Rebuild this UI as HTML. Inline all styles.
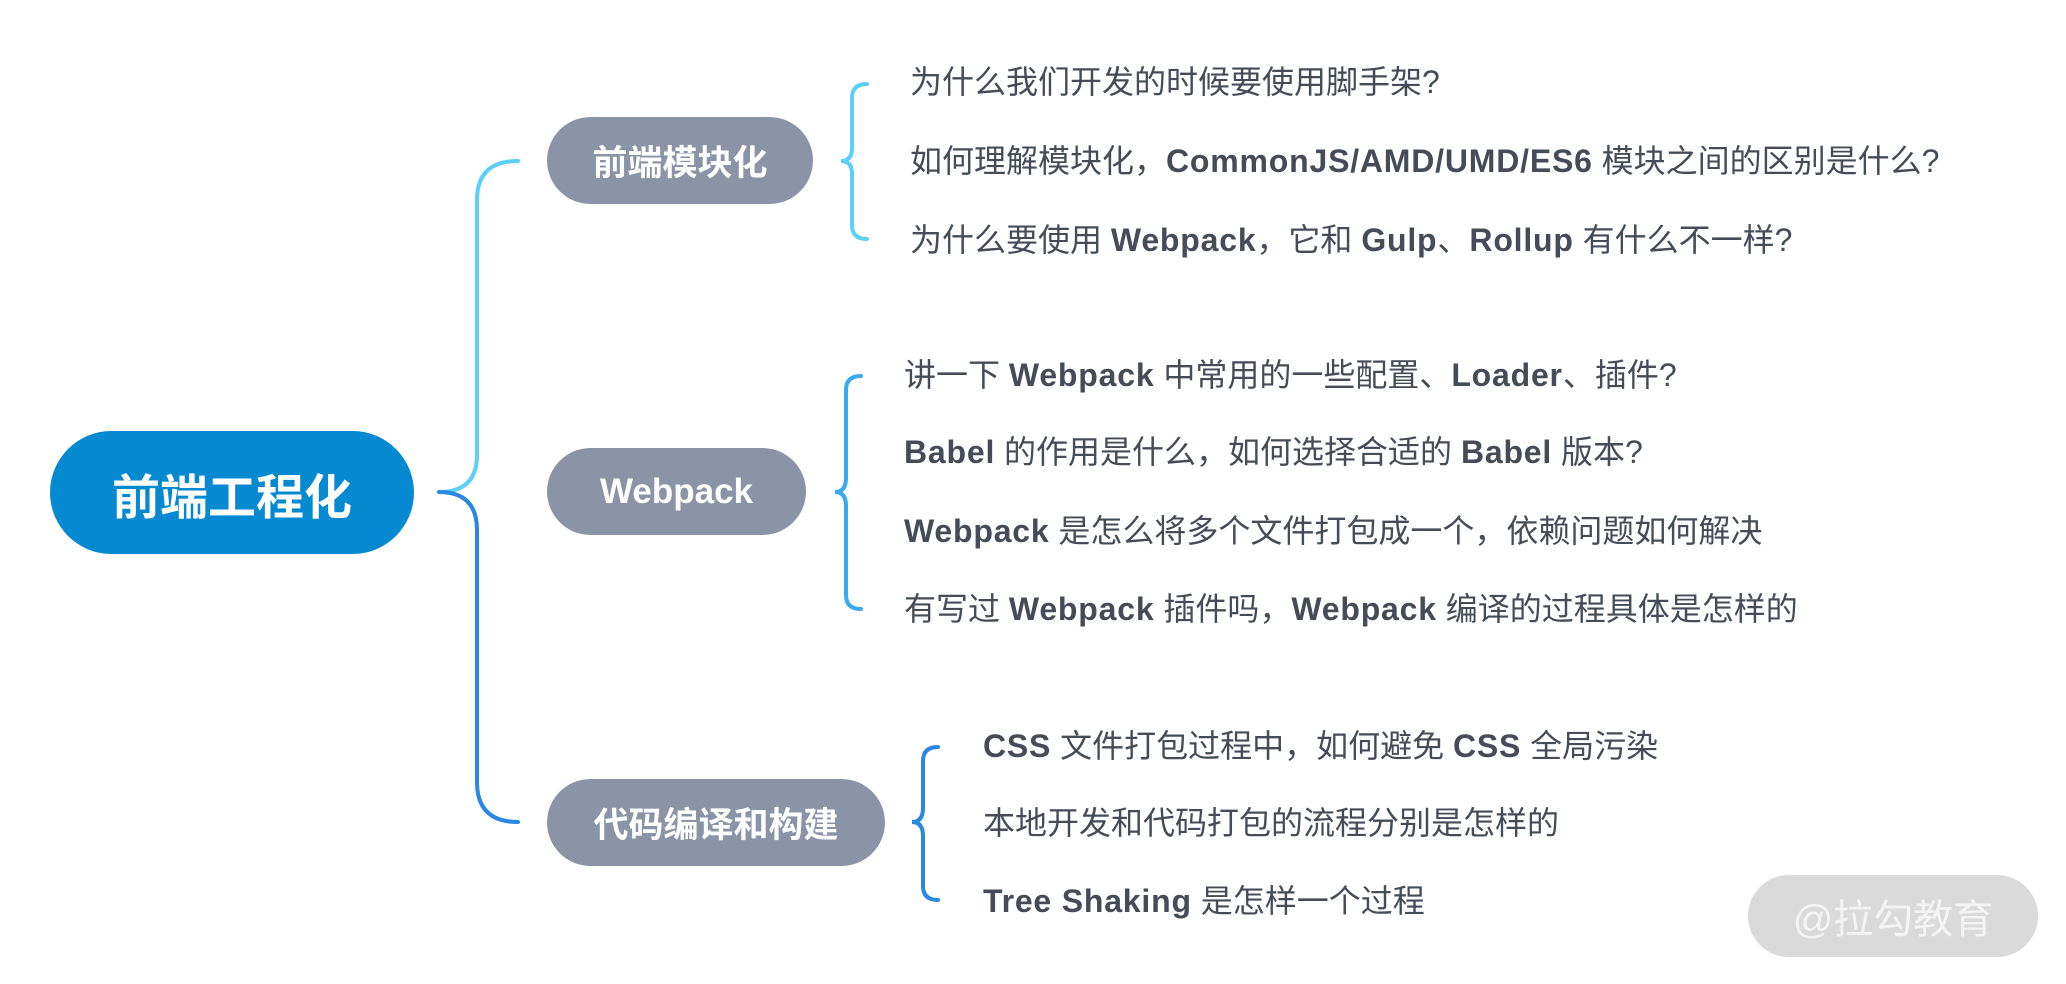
<!DOCTYPE html>
<html><head><meta charset="utf-8"><style>
html,body{margin:0;padding:0;background:#fff;}
body{width:2066px;height:984px;position:relative;overflow:hidden;font-family:"Liberation Sans","Noto Sans CJK SC",sans-serif;}
.pill{position:absolute;display:flex;align-items:center;justify-content:center;color:#fff;font-weight:700;font-family:"Liberation Sans","Noto Sans CJK SC",sans-serif;}
.t{position:absolute;font-size:32px;color:#454c57;white-space:nowrap;line-height:40px;height:40px;transform:translateY(-20px);}
.t b{font-weight:700;letter-spacing:0.8px;}
</style></head><body>
<svg width="2066" height="984" style="position:absolute;left:0;top:0" fill="none" stroke-width="4" stroke-linecap="round">
<path d="M439 492 Q477 492 477 455 L477 200 Q477 161 518 161" stroke="#5ccffb"/>
<path d="M439 492 Q477 492 477 530 L477 782 Q477 822 518 822" stroke="#2a88e2"/>
<path d="M867 84 Q852 84 852 98 L852 148 Q852 161 841 161 Q852 161 852 174 L852 225 Q852 239 867 239" stroke="#5ccffb"/>
<path d="M861 376 Q846 376 846 390 L846 478 Q846 492 835 492 Q846 492 846 506 L846 595 Q846 609 861 609" stroke="#3aaaf0"/>
<path d="M938 747 Q923 747 923 761 L923 808 Q923 822 912 822 Q923 822 923 836 L923 886 Q923 900 938 900" stroke="#2a88e2"/>
</svg>
<div class="pill" style="left:50px;top:431px;width:364px;height:123px;border-radius:62px;background:#0589d1;font-size:48px;">前端工程化</div>
<div class="pill" style="left:547px;top:117px;width:266px;height:87px;border-radius:44px;background:#8a94a6;font-size:35px;">前端模块化</div>
<div class="pill" style="left:547px;top:448px;width:259px;height:87px;border-radius:44px;background:#8a94a6;font-size:35px;">Webpack</div>
<div class="pill" style="left:547px;top:779px;width:338px;height:87px;border-radius:44px;background:#8a94a6;font-size:35px;">代码编译和构建</div>

<div class="t" style="left:910px;top:82px;">为什么我们开发的时候要使用脚手架?</div>
<div class="t" style="left:910px;top:161px;">如何理解模块化，<b>CommonJS/AMD/UMD/ES6</b> 模块之间的区别是什么?</div>
<div class="t" style="left:910px;top:240px;">为什么要使用 <b>Webpack</b>，它和 <b>Gulp</b>、<b>Rollup</b> 有什么不一样?</div>

<div class="t" style="left:904px;top:375px;">讲一下 <b>Webpack</b> 中常用的一些配置、<b>Loader</b>、插件?</div>
<div class="t" style="left:904px;top:452px;"><b>Babel</b> 的作用是什么，如何选择合适的 <b>Babel</b> 版本?</div>
<div class="t" style="left:904px;top:531px;"><b>Webpack</b> 是怎么将多个文件打包成一个，依赖问题如何解决</div>
<div class="t" style="left:904px;top:609px;">有写过 <b>Webpack</b> 插件吗，<b>Webpack</b> 编译的过程具体是怎样的</div>

<div class="t" style="left:983px;top:746px;"><b>CSS</b> 文件打包过程中，如何避免 <b>CSS</b> 全局污染</div>
<div class="t" style="left:983px;top:823px;">本地开发和代码打包的流程分别是怎样的</div>
<div class="t" style="left:983px;top:901px;"><b>Tree Shaking</b> 是怎样一个过程</div>

<div style="position:absolute;left:1748px;top:875px;width:290px;height:82px;border-radius:41px;background:#dadada;color:#f4f4f4;font-size:40px;display:flex;align-items:center;justify-content:center;font-family:'Liberation Sans','Noto Sans CJK SC',sans-serif;">@拉勾教育</div>
</body></html>
